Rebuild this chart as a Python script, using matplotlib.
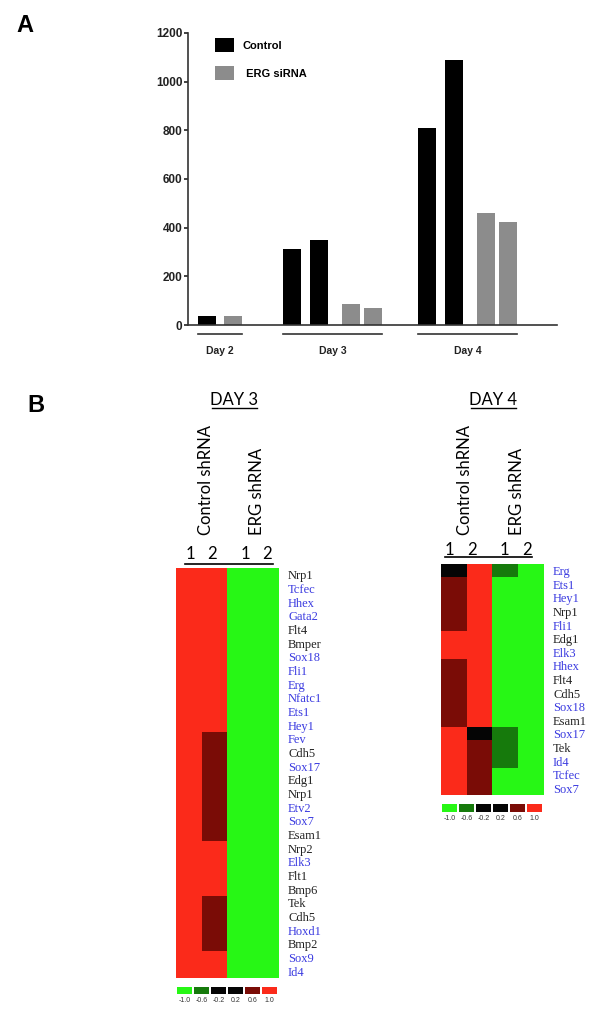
import numpy as np
import matplotlib
matplotlib.use('Agg')
import matplotlib.pyplot as plt
from matplotlib.colors import ListedColormap, BoundaryNorm
from matplotlib.lines import Line2D
import matplotlib.transforms as mtransforms

W, H = 600, 1016

# ---- panel A data ----
days = ['Day 2', 'Day 3', 'Day 4']
control = [[37], [312, 349], [809, 1089]]
erg_sirna = [[35], [88, 70], [460, 423]]

# ---- panel B data (levels from the colour key) ----
key_levels = [-1.0, -0.6, -0.2, 0.2, 0.6, 1.0]
key_labels = ['-1.0', '-0.6', '-0.2', '0.2', '0.6', '1.0']
key_colors = ['#27f715', '#167a0c', '#050505', '#050505', '#7a0c06', '#fb2a1a']

day3_genes = ['Nrp1', 'Tcfec', 'Hhex', 'Gata2', 'Flt4', 'Bmper', 'Sox18', 'Fli1',
              'Erg', 'Nfatc1', 'Ets1', 'Hey1', 'Fev', 'Cdh5', 'Sox17', 'Edg1',
              'Nrp1', 'Etv2', 'Sox7', 'Esam1', 'Nrp2', 'Elk3', 'Flt1', 'Bmp6',
              'Tek', 'Cdh5', 'Hoxd1', 'Bmp2', 'Sox9', 'Id4']
day3_blue = [0, 1, 1, 1, 0, 0, 1, 1, 1, 1, 1, 1, 1, 0, 1, 0,
             0, 1, 1, 0, 0, 1, 0, 0, 0, 0, 1, 0, 1, 1]
day3_ctrl1 = [1.0, 1.0, 1.0, 1.0, 1.0, 1.0, 1.0, 1.0, 1.0, 1.0, 1.0, 1.0, 1.0, 1.0, 1.0,
              1.0, 1.0, 1.0, 1.0, 1.0, 1.0, 1.0, 1.0, 1.0, 1.0, 1.0, 1.0, 1.0, 1.0, 1.0]
day3_ctrl2 = [1.0, 1.0, 1.0, 1.0, 1.0, 1.0, 1.0, 1.0, 1.0, 1.0, 1.0, 1.0, 0.6, 0.6, 0.6,
              0.6, 0.6, 0.6, 0.6, 0.6, 1.0, 1.0, 1.0, 1.0, 0.6, 0.6, 0.6, 0.6, 1.0, 1.0]
day3_erg1 = [-1.0, -1.0, -1.0, -1.0, -1.0, -1.0, -1.0, -1.0, -1.0, -1.0, -1.0, -1.0, -1.0, -1.0, -1.0,
             -1.0, -1.0, -1.0, -1.0, -1.0, -1.0, -1.0, -1.0, -1.0, -1.0, -1.0, -1.0, -1.0, -1.0, -1.0]
day3_erg2 = [-1.0, -1.0, -1.0, -1.0, -1.0, -1.0, -1.0, -1.0, -1.0, -1.0, -1.0, -1.0, -1.0, -1.0, -1.0,
             -1.0, -1.0, -1.0, -1.0, -1.0, -1.0, -1.0, -1.0, -1.0, -1.0, -1.0, -1.0, -1.0, -1.0, -1.0]

day4_genes = ['Erg', 'Ets1', 'Hey1', 'Nrp1', 'Fli1', 'Edg1', 'Elk3', 'Hhex', 'Flt4',
              'Cdh5', 'Sox18', 'Esam1', 'Sox17', 'Tek', 'Id4', 'Tcfec', 'Sox7']
day4_blue = [1, 1, 1, 0, 1, 0, 1, 1, 0, 0, 1, 0, 1, 0, 1, 1, 1]
day4_ctrl1 = [0.2, 0.6, 0.6, 0.6, 0.6, 1.0, 1.0, 0.6, 0.6, 0.6, 0.6, 0.6, 1.0, 1.0, 1.0, 1.0, 1.0]
day4_ctrl2 = [1.0, 1.0, 1.0, 1.0, 1.0, 1.0, 1.0, 1.0, 1.0, 1.0, 1.0, 1.0, 0.2, 0.6, 0.6, 0.6, 0.6]
day4_erg1 = [-0.6, -1.0, -1.0, -1.0, -1.0, -1.0, -1.0, -1.0, -1.0, -1.0, -1.0, -1.0, -0.6, -0.6, -0.6, -1.0, -1.0]
day4_erg2 = [-1.0, -1.0, -1.0, -1.0, -1.0, -1.0, -1.0, -1.0, -1.0, -1.0, -1.0, -1.0, -1.0, -1.0, -1.0, -1.0, -1.0]

fig = plt.figure(figsize=(W / 100, H / 100), dpi=100)


def px_axes(l, t, r, b):
    return fig.add_axes([l / W, 1 - b / H, (r - l) / W, (b - t) / H])


def ftext(x, y, s, **kw):
    return fig.text(x / W, 1 - y / H, s, **kw)


def fline(x0, x1, y, lw=1.2):
    fig.add_artist(Line2D([x0 / W, x1 / W], [1 - y / H, 1 - y / H], color='black', lw=lw,
                          transform=fig.transFigure))


sans = 'Liberation Sans'
cal = 'Lato'

# =================== panel A ===================
ax = px_axes(188, 33, 557, 325)
group_start = [18.5, 104, 239]
ctrl_off = [0, 27]
erg_off = [[26.5], [58.5, 81], [58.5, 81]]
bw = 18
for g in range(3):
    xc = [group_start[g] + ctrl_off[i] for i in range(len(control[g]))]
    xe = [group_start[g] + erg_off[g][i] for i in range(len(erg_sirna[g]))]
    bc = ax.bar(xc, control[g], width=bw, color='black')
    be = ax.bar(xe, erg_sirna[g], width=bw, color='#8c8c8c')
    lo = min(xc) - bw / 2
    hi = max(xe) + bw / 2
    trans = mtransforms.blended_transform_factory(ax.transData, ax.transAxes)
    ax.plot([lo, hi], [-0.031, -0.031], color='#333333', lw=1.2, transform=trans, clip_on=False)
    ax.text((lo + hi) / 2, -0.088, days[g], transform=trans, ha='center', va='center',
            fontsize=7.5, fontweight='bold', family=sans, color='#222222')
    if g == 0:
        hc, he = bc, be

ax.set_xlim(0, 369)
ax.set_ylim(0, 1200)
ax.set_yticks([0, 200, 400, 600, 800, 1000, 1200])
ax.set_xticks([])
for s in ['top', 'right']:
    ax.spines[s].set_visible(False)
ax.spines['left'].set_linewidth(1.2)
ax.spines['bottom'].set_linewidth(1.2)
ax.spines['left'].set_color('#333333')
ax.spines['bottom'].set_color('#333333')
ax.tick_params(axis='y', length=3, width=1.2, pad=1, labelsize=8.5, colors='#222222')
for lab in ax.get_yticklabels():
    lab.set_fontweight('bold')
    lab.set_family(sans)

ax.legend([hc, he], ['Control', ' ERG siRNA'], loc='upper left',
          bbox_to_anchor=(215 / W, 1 - 38 / H), bbox_transform=fig.transFigure,
          frameon=False, borderpad=0, borderaxespad=0, handlelength=1.7, handleheight=1.6,
          labelspacing=1.25, handletextpad=0.8,
          prop={'family': sans, 'weight': 'bold', 'size': 8})

ftext(25, 25, 'A', fontsize=17, fontweight='bold', family=sans, ha='center', va='center')
ftext(36, 405, 'B', fontsize=17, fontweight='bold', family=sans, ha='center', va='center')

# =================== panel B ===================
cmap = ListedColormap(key_colors)
norm = BoundaryNorm([-1.2, -0.8, -0.4, 0.0, 0.4, 0.8, 1.2], cmap.N)


def heatmap(box, cols, genes, blue):
    l, t, r, b = box
    hax = px_axes(l, t, r, b)
    hax.imshow(np.column_stack(cols), cmap=cmap, norm=norm, aspect='auto', interpolation='nearest')
    hax.set_xticks([])
    hax.set_yticks(range(len(genes)))
    hax.set_yticklabels(genes)
    hax.yaxis.tick_right()
    hax.tick_params(axis='y', length=0, pad=6.5)
    for lab, bl in zip(hax.get_yticklabels(), blue):
        lab.set_family('Liberation Serif')
        lab.set_fontsize(9)
        lab.set_color('#3a3ae0' if bl else '#222222')
    for s in hax.spines.values():
        s.set_visible(False)


def colorkey(box):
    l, t, r, b = box
    kax = px_axes(l, t, r, b)
    kax.bar(range(len(key_levels)), 1, width=0.92, color=key_colors)
    kax.set_xlim(-0.5, len(key_levels) - 0.5)
    kax.set_ylim(0, 1)
    kax.set_yticks([])
    kax.set_xticks(range(len(key_levels)))
    kax.set_xticklabels(key_labels, fontsize=5, family=sans, color='#333333')
    kax.tick_params(axis='x', length=0, pad=2)
    for s in kax.spines.values():
        s.set_visible(False)


def headers(title, tx, col_x, ctrl_x, erg_x, num_y, line_y, ul):
    ftext(tx, 400, title, fontsize=12, family=cal, ha='center', va='center')
    fline(tx - 22.5, tx + 22.5, 408, lw=1.0)
    ftext(ctrl_x, 535, 'Control shRNA', rotation=90, fontsize=12, family=cal,
          ha='center', va='bottom')
    ftext(erg_x, 535, 'ERG shRNA', rotation=90, fontsize=12, family=cal,
          ha='center', va='bottom')
    for x, s in zip(col_x, ['1', '2', '1', '2']):
        ftext(x, num_y, s, fontsize=12, family=cal, ha='center', va='center')
    fline(ul[0], ul[1], line_y, lw=1.2)


heatmap((176, 568, 279, 978), [day3_ctrl1, day3_ctrl2, day3_erg1, day3_erg2], day3_genes, day3_blue)
colorkey((176, 987, 278, 994))
headers('DAY 3', 234, [190, 212, 245, 267], 206, 257, 554, 564, (185, 273))

heatmap((441, 564, 544, 795), [day4_ctrl1, day4_ctrl2, day4_erg1, day4_erg2], day4_genes, day4_blue)
colorkey((441, 804, 543, 812))
headers('DAY 4', 493, [449, 472, 504, 527], 465, 517, 550, 557, (445, 532))

fig.savefig('out.png', dpi=100)
